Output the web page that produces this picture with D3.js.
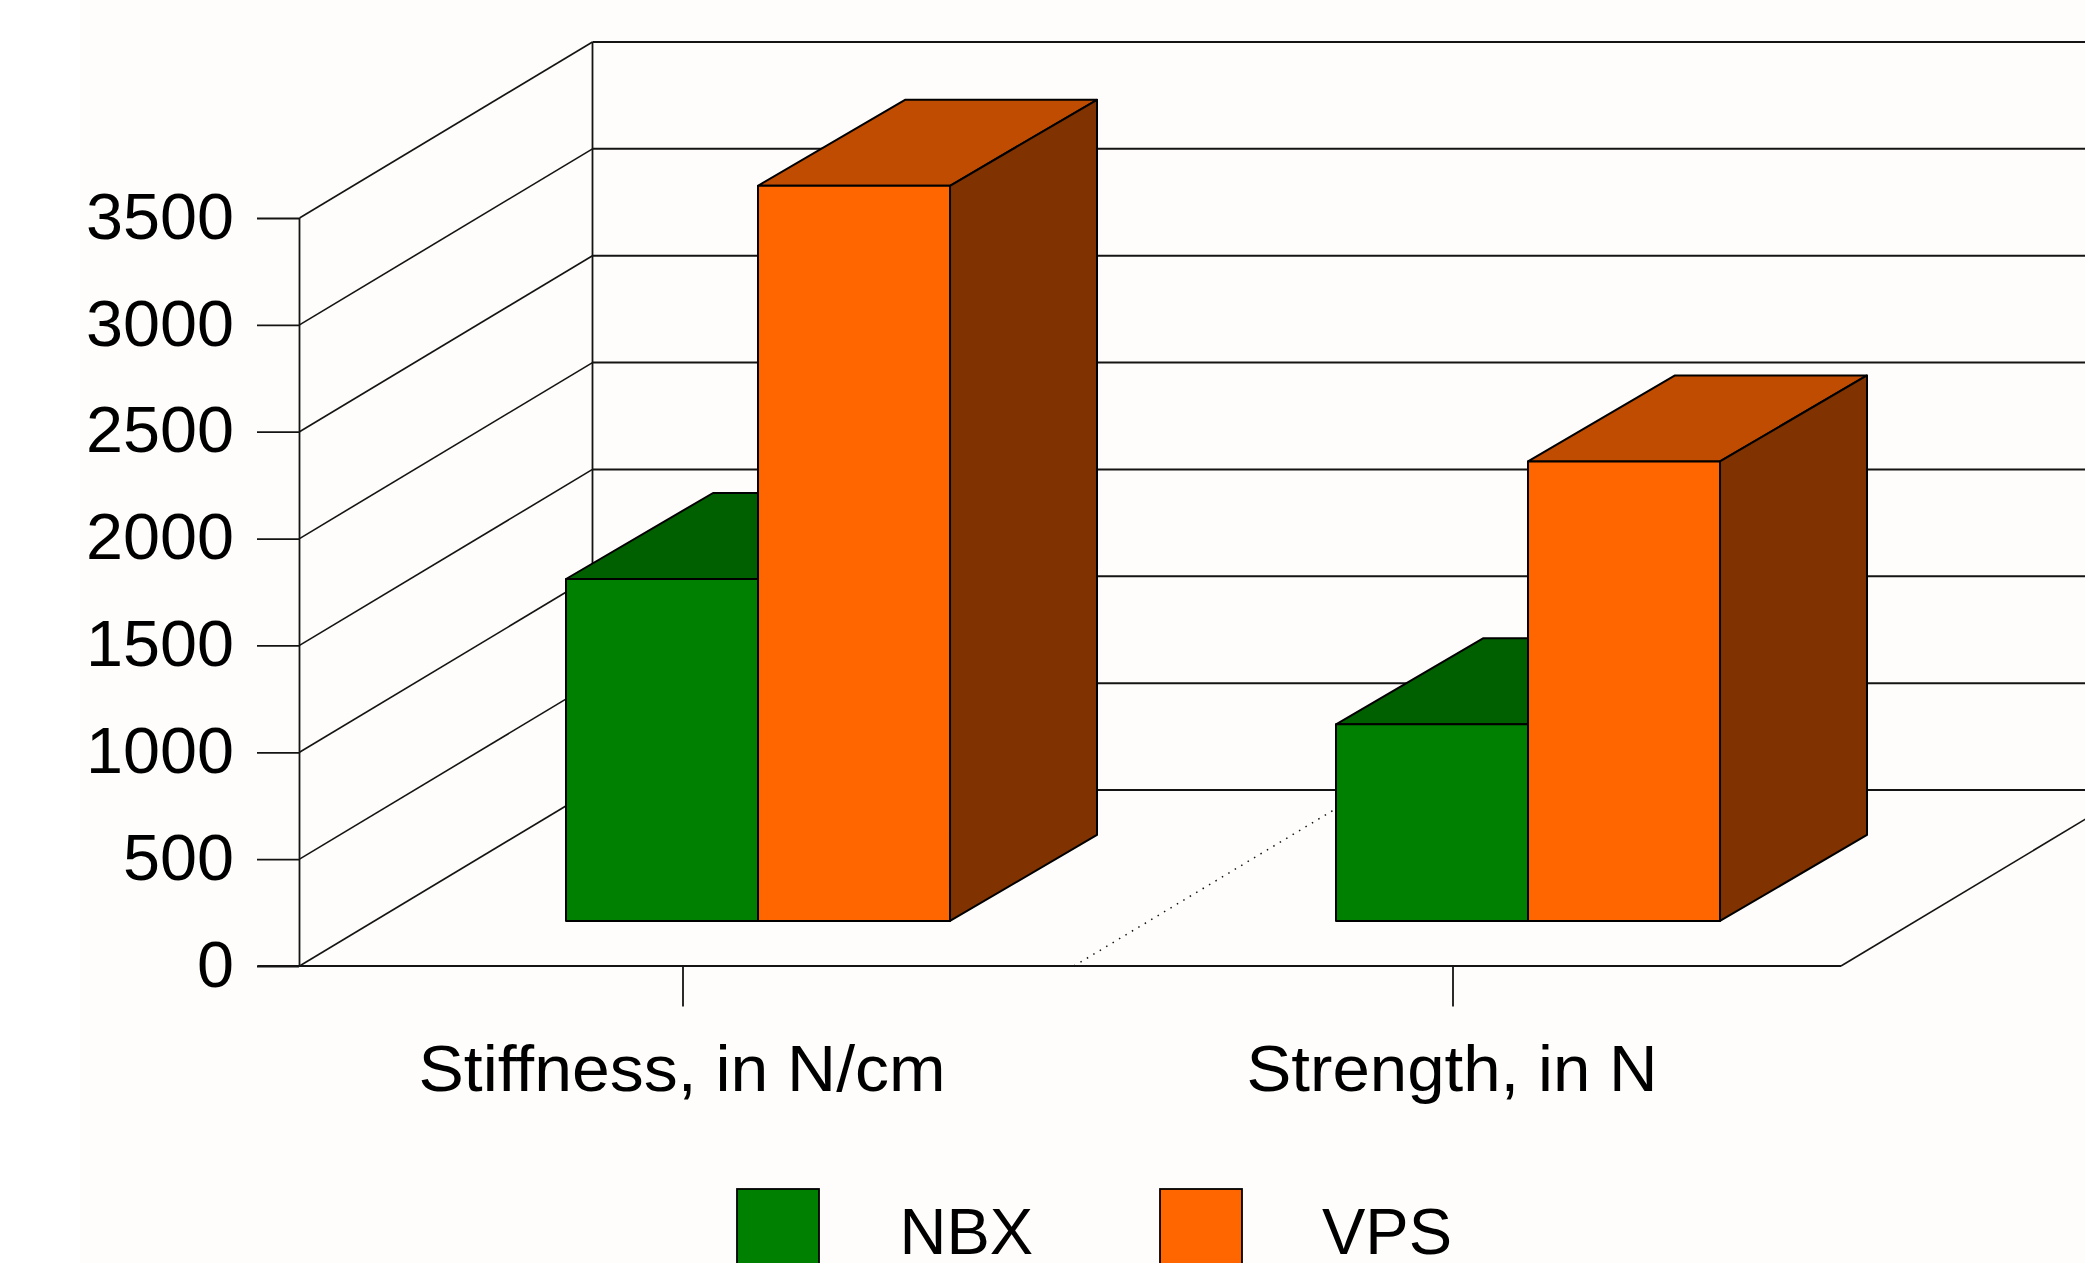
<!DOCTYPE html>
<html>
<head>
<meta charset="utf-8">
<script src="https://cdn.jsdelivr.net/npm/d3@7/dist/d3.min.js"></script>
<style>
  html, body { margin: 0; padding: 0; background: #fff; overflow: hidden; }
  svg { display: block; }
  text { font-family: "Liberation Sans", Arial, sans-serif; fill: #000; }
</style>
</head>
<body>
<div id="chart"></div>
<script>
'use strict';

// ─── Data ─────────────────────────────────────────────────────────────────────
const categories = ['Stiffness, in N/cm', 'Strength, in N'];
const seriesNames = ['NBX', 'VPS'];
const nbxValues = [1600, 920];
const vpsValues = [3440, 2150];
const yTickValues = [0, 500, 1000, 1500, 2000, 2500, 3000, 3500];

// ─── Colours: front, top, side ────────────────────────────────────────────────
const seriesColors = {
  NBX: ['#008000', '#006000', '#004000'],
  VPS: ['#ff6600', '#bf4c00', '#803300'],
};
const PAPER = '#fefdfb';
const INK = '#141414';

// ─── Geometry ─────────────────────────────────────────────────────────────────
const W = 2085, H = 1263;
const FONT = 65;
const FLOOR_LEFT = 299.5, FLOOR_RIGHT = 1841;
const DEPTH_X = 293, DEPTH_Y = 176;   // oblique offset of the back wall
const BAR_Z0 = 0.256;                 // bars stand a quarter of the way into the floor
const BAR_DX = 147, BAR_DY = 86;      // bars have a slightly flatter depth than the walls
const CATEGORY_LABEL_WIDTHS = [527, 411];
const DIGIT_WIDTH = 37;

const x = d3.scaleBand(categories, [298, 1838]);
const xSeries = d3.scaleBand(seriesNames, [-192, 192]);
const y = d3.scaleLinear([0, 3500], [966, 218]);

// project a point given in (pixel x, value, depth 0..1) on to the page
function project(px, value, z) {
  return [px + z * DEPTH_X, y(value) - z * DEPTH_Y];
}
const back = ([px, py]) => [px + BAR_DX, py - BAR_DY];
const poly = pts => pts.map(p => p.join(',')).join(' ');

const svg = d3.select('#chart').append('svg').attr('width', W).attr('height', H);

svg.append('rect').attr('x', 80).attr('y', 0).attr('width', W - 80).attr('height', H).attr('fill', PAPER);

// ─── Walls and floor ──────────────────────────────────────────────────────────
const walls = svg.append('g').attr('stroke', INK).attr('fill', 'none');

yTickValues.forEach(v => {
  const [bx, by] = project(FLOOR_LEFT, v, 1);
  walls.append('line').attr('x1', bx).attr('y1', by).attr('x2', W).attr('y2', by).attr('stroke-width', 2);
  walls.append('line').attr('x1', FLOOR_LEFT).attr('y1', y(v)).attr('x2', bx).attr('y2', by).attr('stroke-width', 1.6);
});

// back and front vertical edges of the left wall
walls.append('line').attr('x1', FLOOR_LEFT).attr('y1', y(0)).attr('x2', FLOOR_LEFT).attr('y2', y(3500)).attr('stroke-width', 1.8);
const backBottom = project(FLOOR_LEFT, 0, 1), backTop = project(FLOOR_LEFT, 3500, 1);
walls.append('line').attr('x1', backBottom[0]).attr('y1', backBottom[1]).attr('x2', backTop[0]).attr('y2', backTop[1]).attr('stroke-width', 1.8);

// floor: right edge and the dotted divider between the categories
const rightBack = project(FLOOR_RIGHT, 0, 1);
walls.append('line').attr('x1', FLOOR_RIGHT).attr('y1', y(0)).attr('x2', rightBack[0]).attr('y2', rightBack[1]).attr('stroke-width', 1.6);
const divX = x(categories[1]) + 6;
const divBack = project(divX, 0, 1);
walls.append('line').attr('x1', divX).attr('y1', y(0)).attr('x2', divBack[0]).attr('y2', divBack[1])
  .attr('stroke-width', 1.5).attr('stroke-dasharray', '1.5 6');

// ─── Bars ─────────────────────────────────────────────────────────────────────
const barData = seriesNames.map((name, s) => ({ name, values: s === 0 ? nbxValues : vpsValues }));
const bars = svg.append('g').attr('stroke', '#000').attr('stroke-width', 2).attr('stroke-linejoin', 'round');

categories.forEach((cat, c) => {
  const centre = x(cat) + x.bandwidth() / 2;
  barData.forEach(s => {
    const x0 = centre + xSeries(s.name);
    const x1 = x0 + xSeries.bandwidth();
    const v = s.values[c];
    const [front, top, side] = seriesColors[s.name];
    const a = project(x0, v, BAR_Z0), b = project(x1, v, BAR_Z0), e = project(x1, 0, BAR_Z0), f = project(x0, 0, BAR_Z0);
    bars.append('polygon').attr('fill', top).attr('points', poly([a, b, back(b), back(a)]));
    bars.append('polygon').attr('fill', side).attr('points', poly([e, b, back(b), back(e)]));
    bars.append('polygon').attr('fill', front).attr('points', poly([f, e, b, a]));
  });
});

// ─── Axes ─────────────────────────────────────────────────────────────────────
const yAxis = svg.append('g')
  .attr('transform', `translate(${FLOOR_LEFT - 0.5},0)`)
  .call(d3.axisLeft(y).tickValues(yTickValues).tickFormat(d3.format('d')).tickSize(42).tickPadding(23));
yAxis.select('.domain').remove();

const xAxis = svg.append('g')
  .attr('transform', `translate(0,${y(0) - 0.5})`)
  .call(d3.axisBottom(x).tickSize(41).tickPadding(38.5).tickSizeOuter(0));
xAxis.select('.domain').remove();

[yAxis, xAxis].forEach(g => {
  g.attr('font-family', null).attr('font-size', null);
  g.selectAll('text').attr('font-size', FONT).style('fill', '#000');
  g.selectAll('line').attr('stroke', INK).attr('stroke-width', 1.8);
});
yAxis.selectAll('text')
  .attr('dy', '0.31em')
  .attr('textLength', d => String(d).length * DIGIT_WIDTH)
  .attr('lengthAdjust', 'spacingAndGlyphs');
xAxis.selectAll('text')
  .attr('dx', -1)
  .attr('textLength', (d, i) => CATEGORY_LABEL_WIDTHS[i])
  .attr('lengthAdjust', 'spacingAndGlyphs');

svg.append('line').attr('x1', 257.5).attr('x2', FLOOR_RIGHT).attr('y1', y(0)).attr('y2', y(0))
  .attr('stroke', INK).attr('stroke-width', 2.2);

// ─── Legend ───────────────────────────────────────────────────────────────────
const legendX = d3.scalePoint(seriesNames, [737, 1160]);
const legend = svg.append('g');
seriesNames.forEach(name => {
  legend.append('rect').attr('x', legendX(name)).attr('y', 1189).attr('width', 82).attr('height', 84)
    .attr('fill', seriesColors[name][0]).attr('stroke', '#000').attr('stroke-width', 1.8);
  legend.append('text').attr('x', legendX(name) + (name === 'NBX' ? 162.5 : 162)).attr('y', 1253.5)
    .attr('font-size', FONT).text(name);
});
</script>
</body>
</html>
